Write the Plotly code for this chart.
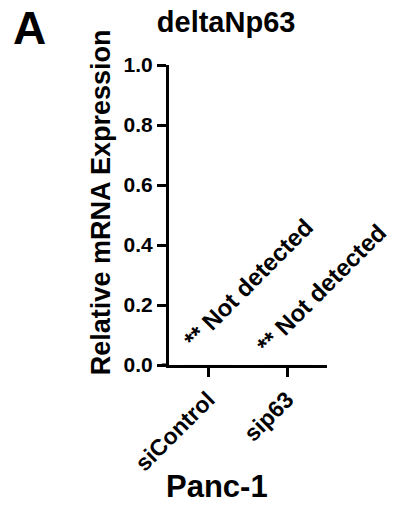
import plotly.graph_objects as go

categories = ["siControl", "sip63"]
values = [0.0, 0.0]
note_texts = ["** Not detected", "** Not detected"]
note_x = [0.506, 1.437]
note_y = [0.272, 0.255]
y_ticks = [0.0, 0.2, 0.4, 0.6, 0.8, 1.0]

FONT = "Liberation Sans, Arial, sans-serif"

fig = go.Figure()
fig.add_trace(go.Bar(x=categories, y=values, marker_color="black", width=0.6, showlegend=False))

for t, xv, yv in zip(note_texts, note_x, note_y):
    fig.add_annotation(x=xv, y=yv, xref="x", yref="y", text=t, showarrow=False,
                       textangle=-45, xanchor="center", yanchor="middle",
                       font=dict(family=FONT, size=24, color="black", weight="bold"))

fig.add_annotation(x=-0.43, y=0.543, xref="paper", yref="paper",
                   text="Relative mRNA Expression", showarrow=False, textangle=-90,
                   xanchor="center", yanchor="middle",
                   font=dict(family=FONT, size=27, color="black", weight="bold"))
fig.add_annotation(x=0.304, y=-0.405, xref="paper", yref="paper",
                   text="Panc-1", showarrow=False, xanchor="center", yanchor="middle",
                   font=dict(family=FONT, size=31, color="black", weight="bold"))
fig.add_annotation(x=-0.88, y=1.125, xref="paper", yref="paper",
                   text="A", showarrow=False, xanchor="center", yanchor="middle",
                   font=dict(family=FONT, size=46, color="black", weight="bold"))

# small extension of the x-axis line to the left of the y-axis (Prism style)
fig.add_shape(type="line", xref="paper", yref="y", x0=-0.045, x1=0, y0=0, y1=0,
              line=dict(color="black", width=3))

fig.update_layout(
    width=396, height=516,
    margin=dict(l=169, r=69, t=65, b=151, pad=0),
    paper_bgcolor="white", plot_bgcolor="white",
    title=dict(text="deltaNp63", x=0.571, xanchor="center", y=1 - 22 / 516, yanchor="middle",
               xref="container", yref="container",
               font=dict(family=FONT, size=29, color="black", weight="bold")),
    xaxis=dict(range=[-0.494, 1.506], showline=True, linewidth=3, linecolor="black",
               ticks="outside", ticklen=9, tickwidth=3, tickcolor="black",
               tickangle=-45, showgrid=False, zeroline=False,
               tickfont=dict(family=FONT, size=23, color="black", weight="bold")),
    yaxis=dict(range=[0, 1.0], tickvals=y_ticks, tickformat=".1f", showline=True, linewidth=3,
               linecolor="black", ticks="outside", ticklen=9, tickwidth=3, tickcolor="black",
               showgrid=False, zeroline=False,
               tickfont=dict(family=FONT, size=21, color="black", weight="bold")),
)

fig.write_html("out.html")
